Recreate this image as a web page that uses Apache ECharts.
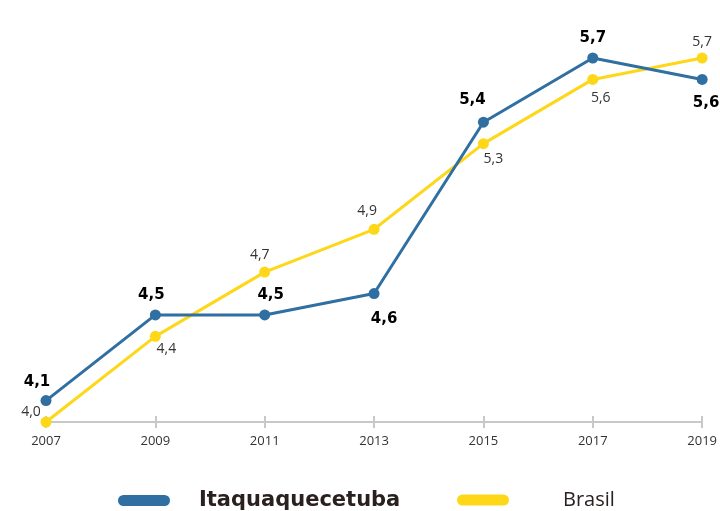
<!DOCTYPE html>
<html>
<head>
<meta charset="utf-8">
<script src="https://cdn.jsdelivr.net/npm/echarts@6/dist/echarts.min.js"></script>
<style>
  html, body { margin: 0; padding: 0; background: #fff; }
  #main { width: 720px; height: 511px; }
</style>
</head>
<body>
<div id="main"></div>
<script>
var years = ["2007", "2009", "2011", "2013", "2015", "2017", "2019"];
var itaqua = [4.1, 4.5, 4.5, 4.6, 5.4, 5.7, 5.6];
var brasil = [4.0, 4.4, 4.7, 4.9, 5.3, 5.6, 5.7];

// label offsets per point [dx, dy]
var itaquaOffsets = [[-9, -18], [-4, -20], [6, -20], [10, 26], [-11, -22], [0, -20], [4, 24]];
var brasilOffsets = [[-15, -10], [11, 13], [-5, -17], [-7, -18], [10, 15], [8, 19], [0, -16]];

function fmt(v) { return v.toFixed(1).replace(".", ","); }

function items(values, offsets) {
  return values.map(function (v, i) {
    return { value: v, label: { offset: offsets[i] } };
  });
}

var pill = "path://M5.5,0 H46.5 A5.5,5.5 0 0 1 46.5,11 H5.5 A5.5,5.5 0 0 1 5.5,0 Z";

var chart = echarts.init(document.getElementById("main"));
var option = {
  animation: false,
  grid: { left: 46, right: 17, top: 58, bottom: 89 },
  xAxis: [
    {
      type: "category",
      data: years,
      boundaryGap: false,
      axisLine: { lineStyle: { color: "#c8c8c8", width: 2 } },
      axisTick: { show: true, length: 6, lineStyle: { color: "#c8c8c8", width: 2 } },
      axisLabel: { color: "#333", fontSize: 13, fontFamily: "Open Sans", margin: 13 }
    },
    {
      // ticks poking above the axis line
      type: "category",
      data: years,
      position: "bottom",
      boundaryGap: false,
      axisLine: { show: false },
      axisTick: { show: true, inside: true, length: 6, lineStyle: { color: "#c8c8c8", width: 2 } },
      axisLabel: { show: false }
    }
  ],
  yAxis: {
    type: "value",
    min: 4.0,
    max: 5.7,
    show: false
  },
  legend: [
    {
      data: ["Itaquaquecetuba"],
      left: 113,
      top: 485,
      icon: pill,
      itemWidth: 52,
      itemHeight: 11,
      textStyle: {
        color: "#2b2020", fontSize: 21, fontWeight: "bold", fontFamily: "DejaVu Sans",
        padding: [2, 0, 0, 24]
      }
    },
    {
      data: ["Brasil"],
      left: 452,
      top: 485,
      icon: pill,
      itemWidth: 52,
      itemHeight: 11,
      textStyle: {
        color: "#2b2020", fontSize: 20, fontFamily: "Open Sans",
        padding: [0, 0, 0, 49]
      }
    }
  ],
  series: [
    {
      name: "Brasil",
      type: "line",
      data: items(brasil, brasilOffsets),
      color: "#fdd718",
      symbol: "circle",
      symbolSize: 11,
      lineStyle: { width: 3, color: "#fdd718" },
      label: {
        show: true,
        position: "inside",
        color: "#333",
        fontSize: 14,
        fontFamily: "Open Sans",
        formatter: function (p) { return fmt(p.value); }
      }
    },
    {
      name: "Itaquaquecetuba",
      type: "line",
      data: items(itaqua, itaquaOffsets),
      color: "#2f6fa2",
      symbol: "circle",
      symbolSize: 11,
      lineStyle: { width: 3, color: "#2f6fa2" },
      label: {
        show: true,
        position: "inside",
        color: "#000",
        fontSize: 15,
        fontWeight: "bold",
        fontFamily: "DejaVu Sans",
        formatter: function (p) { return fmt(p.value); }
      }
    }
  ]
};
chart.setOption(option);
</script>
</body>
</html>
